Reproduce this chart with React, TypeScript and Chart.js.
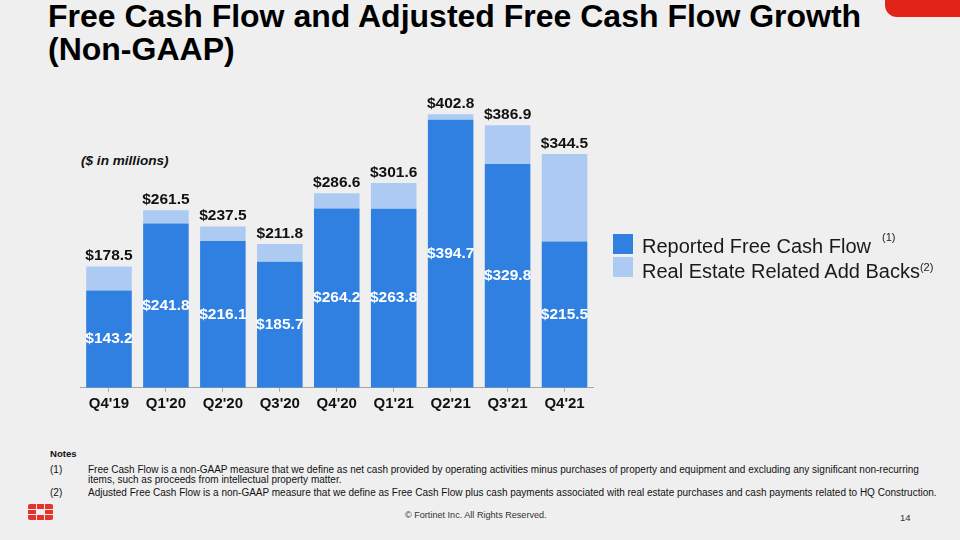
import React, { useEffect, useRef } from "react";
import { Chart, registerables } from "chart.js";

Chart.register(...registerables);

const categories = ["Q4'19", "Q1'20", "Q2'20", "Q3'20", "Q4'20", "Q1'21", "Q2'21", "Q3'21", "Q4'21"];
const reportedFCF = [143.2, 241.8, 216.1, 185.7, 264.2, 263.8, 394.7, 329.8, 215.5];
const adjustedTotals = [178.5, 261.5, 237.5, 211.8, 286.6, 301.6, 402.8, 386.9, 344.5];
const realEstateAddBacks = [35.3, 19.7, 21.4, 26.1, 22.4, 37.8, 8.1, 57.1, 129.0];
const seriesNames = ["Reported Free Cash Flow", "Real Estate Related Add Backs"];

const FONT = '"Liberation Sans", Arial, Helvetica, sans-serif';
const DARK = "#2f80e1";
const LIGHT = "#adcbf2";
const BG = "#efefef";

const labelPlugin = {
  id: "fcfLabels",
  afterDatasetsDraw(chart: any) {
    const ctx = chart.ctx;
    const m0 = chart.getDatasetMeta(0);
    const m1 = chart.getDatasetMeta(1);
    ctx.save();
    ctx.textAlign = "center";
    ctx.textBaseline = "middle";
    ctx.font = `bold 15.5px ${FONT}`;
    m0.data.forEach((el: any, i: number) => {
      ctx.fillStyle = "#ffffff";
      ctx.fillText("$" + reportedFCF[i].toFixed(1), el.x, (el.y + el.base) / 2);
      const top = m1.data[i].y;
      ctx.fillStyle = "#111111";
      ctx.fillText("$" + adjustedTotals[i].toFixed(1), el.x, top - 10.5);
    });
    ctx.restore();
  },
};

function FcfChart() {
  const ref = useRef<HTMLCanvasElement>(null);
  useEffect(() => {
    if (!ref.current) return;
    const chart = new Chart(ref.current, {
      type: "bar",
      data: {
        labels: categories,
        datasets: [
          {
            label: seriesNames[0],
            data: reportedFCF,
            backgroundColor: DARK,
            borderWidth: 0,
            barPercentage: 0.8,
            categoryPercentage: 1.0,
          },
          {
            label: seriesNames[1],
            data: realEstateAddBacks,
            backgroundColor: LIGHT,
            borderWidth: 0,
            barPercentage: 0.8,
            categoryPercentage: 1.0,
          },
        ],
      },
      options: {
        animation: false,
        responsive: false,
        maintainAspectRatio: false,
        layout: { padding: { left: 80.5, right: 27, top: 22.7, bottom: 4.3 } },
        plugins: {
          legend: { display: false },
          tooltip: { enabled: false },
        },
        scales: {
          x: {
            stacked: true,
            grid: {
              display: true,
              drawOnChartArea: false,
              drawTicks: true,
              tickLength: 4,
              offset: false,
              color: "#a6a6a6",
            },
            border: { display: true, color: "#a6a6a6", width: 1 },
            ticks: {
              color: "#111111",
              padding: 3,
              font: { family: FONT, size: 15, weight: "bold" },
            },
          },
          y: {
            stacked: true,
            display: false,
            min: 0,
            max: 420,
          },
        },
      },
      plugins: [labelPlugin],
    });
    return () => chart.destroy();
  }, []);
  return (
    <canvas
      ref={ref}
      width={620}
      height={340}
      style={{ position: "absolute", left: 0, top: 80, width: 620, height: 340 }}
    />
  );
}

function Logo() {
  const cells: React.ReactNode[] = [];
  const cw = 7.6;
  const ch = 4.6;
  const gap = 0.9;
  for (let r = 0; r < 3; r++) {
    for (let c = 0; c < 3; c++) {
      if (r === 1 && c === 1) continue;
      const radius =
        r === 0 && c === 0 ? "2px 0 0 0" :
        r === 0 && c === 2 ? "0 2px 0 0" :
        r === 2 && c === 0 ? "0 0 0 2px" :
        r === 2 && c === 2 ? "0 0 2px 0" : "0";
      cells.push(
        <div
          key={`${r}-${c}`}
          style={{
            position: "absolute",
            left: c * (cw + gap),
            top: r * (ch + gap),
            width: cw,
            height: ch,
            background: "#e5322b",
            borderRadius: radius,
          }}
        />
      );
    }
  }
  return <div style={{ position: "absolute", left: 28, top: 504, width: 24.6, height: 15.6 }}>{cells}</div>;
}

export default function App() {
  const text: React.CSSProperties = { position: "absolute", whiteSpace: "nowrap", fontFamily: FONT, margin: 0 };
  return (
    <div
      style={{
        position: "fixed",
        left: 0,
        top: 0,
        width: 960,
        height: 540,
        background: BG,
        overflow: "hidden",
        fontFamily: FONT,
        color: "#111111",
      }}
    >
      {/* red corner */}
      <div
        style={{
          position: "absolute",
          left: 885,
          top: -20,
          width: 100,
          height: 36.7,
          background: "#e2231a",
          borderRadius: "0 0 0 12px",
        }}
      />
      {/* title */}
      <div style={{ ...text, left: 48, top: 0, fontSize: 32, lineHeight: "33px", fontWeight: "bold", color: "#000" }}>
        Free Cash Flow and Adjusted Free Cash Flow Growth
        <br />
        (Non-GAAP)
      </div>
      <div style={{ ...text, left: 81, top: 153, fontSize: 13.6, lineHeight: "16px", fontWeight: "bold", fontStyle: "italic" }}>
        ($ in millions)
      </div>

      <FcfChart />

      {/* legend */}
      <div style={{ position: "absolute", left: 613, top: 234, width: 20, height: 20, background: DARK }} />
      <div style={{ position: "absolute", left: 613, top: 256.7, width: 20, height: 20, background: LIGHT }} />
      <div style={{ ...text, left: 642, top: 236, fontSize: 20, lineHeight: "20px", color: "#1a1a1a" }}>
        {seriesNames[0]}
      </div>
      <div style={{ ...text, left: 882, top: 232, fontSize: 11, lineHeight: "11px", color: "#1a1a1a" }}>(1)</div>
      <div style={{ ...text, left: 642, top: 257, fontSize: 20, lineHeight: "20px", color: "#1a1a1a" }}>
        {seriesNames[1]}
        <span style={{ fontSize: 11, verticalAlign: "7px" }}>(2)</span>
      </div>

      {/* notes */}
      <div style={{ ...text, left: 50, top: 448, fontSize: 9.6, lineHeight: "11px", fontWeight: "bold" }}>Notes</div>
      <div style={{ ...text, left: 50, top: 464.5, fontSize: 10, lineHeight: "10.5px" }}>(1)</div>
      <div style={{ ...text, left: 88, top: 464.5, fontSize: 10, lineHeight: "10.5px" }}>
        Free Cash Flow is a non-GAAP measure that we define as net cash provided by operating activities minus purchases of property and equipment and excluding any significant non-recurring
        <br />
        items, such as proceeds from intellectual property matter.
      </div>
      <div style={{ ...text, left: 50, top: 487.5, fontSize: 10, lineHeight: "10.5px" }}>(2)</div>
      <div style={{ ...text, left: 88, top: 487.5, fontSize: 10, lineHeight: "10.5px" }}>
        Adjusted Free Cash Flow is a non-GAAP measure that we define as Free Cash Flow plus cash payments associated with real estate purchases and cash payments related to HQ Construction.
      </div>

      <Logo />
      <div style={{ ...text, left: 405, top: 510, fontSize: 9.1, lineHeight: "11px", color: "#333" }}>
        © Fortinet Inc. All Rights Reserved.
      </div>
      <div style={{ ...text, left: 900, top: 512, fontSize: 9.5, lineHeight: "11px", color: "#333" }}>14</div>
    </div>
  );
}
